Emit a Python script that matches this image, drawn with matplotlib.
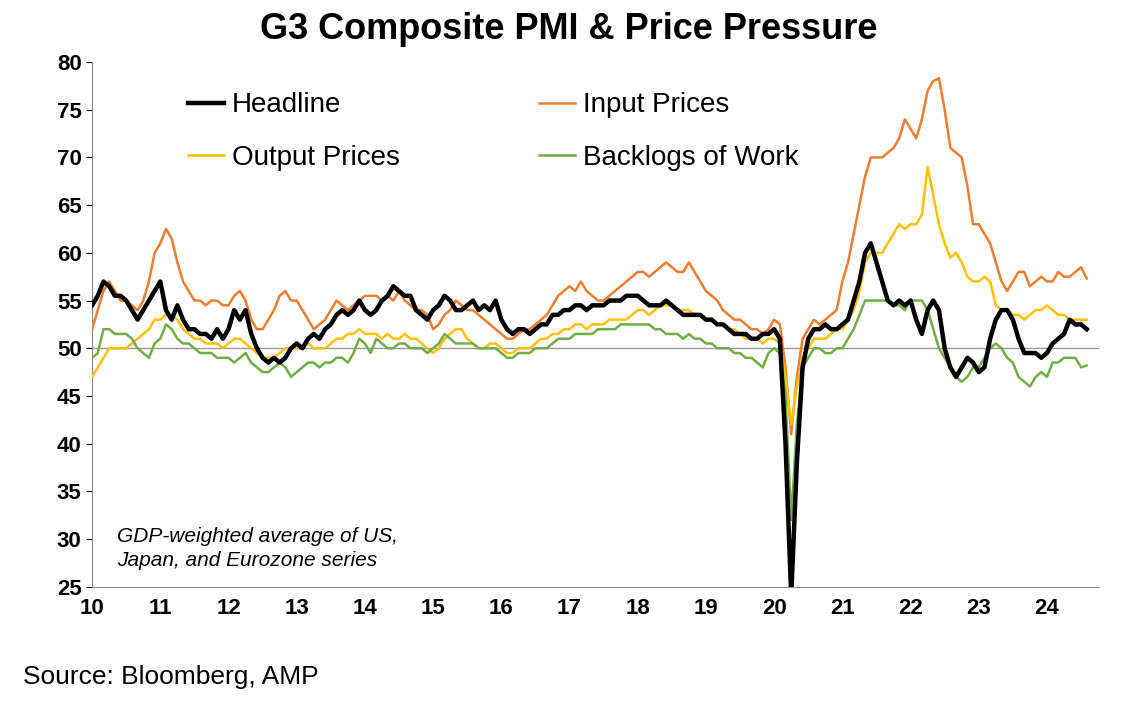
import numpy as np
import matplotlib
matplotlib.use("Agg")
import matplotlib.pyplot as plt

plt.rcParams['font.family'] = ['Liberation Sans', 'DejaVu Sans']

headline = [54.5,55.5,57,56.5,55.5,55.5,55,54,53,54,55,56,
57,54,53,54.5,53,52,52,51.5,51.5,51,52,51,
52,54,53,54,51.5,50,49,48.5,49,48.5,49,50,
50.5,50,51,51.5,51,52,52.5,53.5,54,53.5,54,55,
54,53.5,54,55,55.5,56.5,56,55.5,55.5,54,53.5,53,
54,54.5,55.5,55,54,54,54.5,55,54,54.5,54,55,
53,52,51.5,52,52,51.5,52,52.5,52.5,53.5,53.5,54,
54,54.5,54.5,54,54.5,54.5,54.5,55,55,55,55.5,55.5,
55.5,55,54.5,54.5,54.5,55,54.5,54,53.5,53.5,53.5,53.5,
53,53,52.5,52.5,52,51.5,51.5,51.5,51,51,51.5,51.5,
52,51,40,24,38,48,51,52,52,52.5,52,52,
52.5,53,55,57,60,61,59,57,55,54.5,55,54.5,
55,53,51.5,54,55,54,50,48,47,48,49,48.5,
47.5,48,51,53,54,54,53,51,49.5,49.5,49.5,49,
49.5,50.5,51,51.5,53,52.5,52.5,52]
input_prices = [52,54,56,57,56,55,55,54.5,54,55,57,60,
61,62.5,61.5,59,57,56,55,55,54.5,55,55,54.5,
54.5,55.5,56,55,53,52,52,53,54,55.5,56,55,
55,54,53,52,52.5,53,54,55,54.5,54,54.5,55,
55.5,55.5,55.5,55,55.5,55,56,55,54.5,54,54,53.5,
52,52.5,53.5,54,55,54.5,54,54,53.5,53,52.5,52,
51.5,51,51,51.5,52,52,52.5,53,53.5,54.5,55.5,56,
56.5,56,57,56,55.5,55,55,55.5,56,56.5,57,57.5,
58,58,57.5,58,58.5,59,58.5,58,58,59,58,57,
56,55.5,55,54,53.5,53,53,52.5,52,52,51.5,52,
53,52.5,48,41,47,51,52,53,52.5,53,53.5,54,
57,59,62,65,68,70,70,70,70.5,71,72,74,
73,72,74,77,78,78.3,75,71,70.5,70,67,63,
63,62,61,59,57,56,57,58,58,56.5,57,57.5,
57,57,58,57.5,57.5,58,58.5,57.3]
output_prices = [47,48,49,50,50,50,50,50.5,51,51.5,52,53,
53,53.5,53.5,53,52,51.5,51,51,50.5,50.5,50.5,50,
50.5,51,51,50.5,50,49.5,49,49,49,49.5,50,50,
50,50,50.5,50,50,50,50.5,51,51,51.5,51.5,52,
51.5,51.5,51.5,51,51.5,51,51,51.5,51,51,50.5,50,
49.5,50,51,51.5,52,52,51,50.5,50,50,50.5,50.5,
50,49.5,49.5,50,50,50,50.5,51,51,51.5,51.5,52,
52,52.5,52.5,52,52.5,52.5,52.5,53,53,53,53,53.5,
54,54,53.5,54,54.5,54.5,54.5,54,54,54,53.5,53.5,
53,53,52.5,52.5,52,52,51.5,51,51,51,50.5,51,
51,50.5,47,42,46,49,50,51,51,51,51.5,52,
52,53,54,56,59,60,60,60,61,62,63,62.5,
63,63,64,69,66,63,61,59.5,60,59,57.5,57,
57,57.5,57,54.5,54,54,53.5,53.5,53,53.5,54,54,
54.5,54,53.5,53.5,53,53,53,53]
backlogs = [49,49.5,52,52,51.5,51.5,51.5,51,50,49.5,49,50.5,
51,52.5,52,51,50.5,50.5,50,49.5,49.5,49.5,49,49,
49,48.5,49,49.5,48.5,48,47.5,47.5,48,48.5,48,47,
47.5,48,48.5,48.5,48,48.5,48.5,49,49,48.5,49.5,51,
50.5,49.5,51,50.5,50,50,50.5,50.5,50,50,50,49.5,
50,50.5,51.5,51,50.5,50.5,50.5,50.5,50,50,50,50,
49.5,49,49,49.5,49.5,49.5,50,50,50,50.5,51,51,
51,51.5,51.5,51.5,51.5,52,52,52,52,52.5,52.5,52.5,
52.5,52.5,52.5,52,52,51.5,51.5,51.5,51,51.5,51,51,
50.5,50.5,50,50,50,49.5,49.5,49,49,48.5,48,49.5,
50,49.5,45,32,42,48,49,50,50,49.5,49.5,50,
50,51,52,53.5,55,55,55,55,55,54.5,54.5,54,
55,55,55,54,52,50,49,48,47,46.5,47,48,
48,49,50,50.5,50,49,48.5,47,46.5,46,47,47.5,
47,48.5,48.5,49,49,49,48,48.2]
years = list(range(10, 25))

t = 2010 + np.arange(len(headline)) / 12.0

fig = plt.figure(figsize=(11.37, 7.13), dpi=100)
ax = fig.add_axes([0.081, 0.177, 0.886, 0.736])
ax.axhline(50, color="#999999", lw=1, zorder=1)
ax.plot(t, input_prices, color="#ED7D31", lw=1.8, label="Input Prices", zorder=3)
ax.plot(t, output_prices, color="#FFC000", lw=1.8, label="Output Prices", zorder=3)
ax.plot(t, backlogs, color="#70AD47", lw=1.8, label="Backlogs of Work", zorder=3)
ax.plot(t, headline, color="black", lw=3.2, label="Headline", zorder=4)

ax.set_xlim(2010, 2024.77)
ax.set_ylim(25, 80)
ax.set_yticks(range(25, 81, 5))
ax.set_xticks([2000 + y for y in years])
ax.set_xticklabels([str(y) for y in years])
for lab in ax.get_xticklabels() + ax.get_yticklabels():
    lab.set_fontweight("bold")
    lab.set_fontsize(16)
ax.tick_params(axis="x", length=0, pad=8)
ax.tick_params(axis="y", length=4, direction="out")
for s in ["top", "right"]:
    ax.spines[s].set_visible(False)
for s in ["left", "bottom"]:
    ax.spines[s].set_color("#888888")

h, l = ax.get_legend_handles_labels()
order = [3, 1, 0, 2]
ax.legend([h[i] for i in order], [l[i] for i in order], ncol=2, loc="upper left",
          bbox_to_anchor=(0.07, 0.99), frameon=False, fontsize=20,
          handlelength=1.3, handletextpad=0.3, columnspacing=5.0, labelspacing=0.95)

ax.text(0.025, 0.04, "GDP-weighted average of US,\nJapan, and Eurozone series",
        transform=ax.transAxes, fontsize=15, style="italic", linespacing=1.3)
fig.text(0.5, 0.945, "G3 Composite PMI & Price Pressure", ha="center", fontsize=26,
         fontweight="bold")
fig.text(0.02, 0.04, "Source: Bloomberg, AMP", fontsize=19)
fig.savefig("out.png", dpi=100)
